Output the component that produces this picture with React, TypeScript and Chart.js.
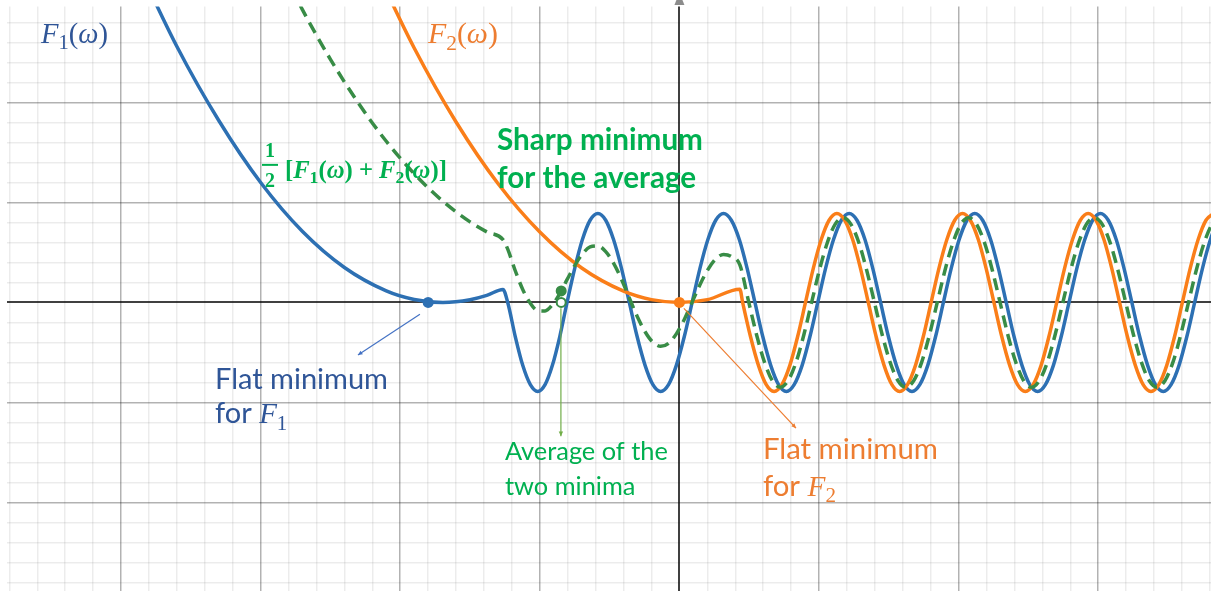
import React, { useEffect, useRef } from "react";
import { Chart, registerables } from "chart.js";

Chart.register(...registerables);

// ---- axis ranges (one major grid square = 1 unit, minor = 0.2) ----
const X_MIN = -4.817;
const X_MAX = 3.808;
const Y_MIN = -2.881;
const Y_MAX = 2.96;

// ---- F1(ω): blue ----
const f1X = [
  -3.9, -3.6, -3.3, -3.0, -2.7, -2.4, -2.1, -1.9, -1.694, -1.5, -1.38, -1.264,
  -1.23, -1.176, -1.1225, -1.068, -1.015, -0.9625, -0.91, -0.857, -0.805, -0.75, -0.695, -0.64,
  -0.584, -0.528, -0.472, -0.415, -0.359, -0.303, -0.246, -0.19, -0.134, -0.078, -0.022, 0.035, 0.091, 0.147, 0.204, 0.26,
  0.316, 0.372, 0.429, 0.485, 0.541, 0.597, 0.654, 0.71, 0.766, 0.822, 0.879, 0.935, 0.991, 1.047, 1.104, 1.16,
  1.216, 1.272, 1.329, 1.385, 1.441, 1.497, 1.554, 1.61, 1.666, 1.722, 1.779, 1.835, 1.891, 1.947, 2.004, 2.06,
  2.116, 2.172, 2.229, 2.285, 2.341, 2.397, 2.454, 2.51, 2.566, 2.622, 2.679, 2.735, 2.791, 2.847, 2.904, 2.96,
  3.016, 3.072, 3.129, 3.185, 3.241, 3.297, 3.354, 3.41, 3.466, 3.522, 3.579, 3.635, 3.691, 3.747, 3.804, 3.86,
  3.916,
];
const f1Y = [
  3.43, 2.56, 1.82, 1.2, 0.71, 0.35, 0.116, 0.03, 0, 0.027, 0.07, 0.13,
  0, -0.341, -0.629, -0.822, -0.89, -0.822, -0.629, -0.341, 0, 0.341, 0.629, 0.822,
  0.89, 0.822, 0.629, 0.341, 0, -0.341, -0.629, -0.822, -0.89, -0.822, -0.629, -0.341, 0, 0.341, 0.629, 0.822,
  0.89, 0.822, 0.629, 0.341, 0, -0.341, -0.629, -0.822, -0.89, -0.822, -0.629, -0.341, 0, 0.341, 0.629, 0.822,
  0.89, 0.822, 0.629, 0.341, 0, -0.341, -0.629, -0.822, -0.89, -0.822, -0.629, -0.341, 0, 0.341, 0.629, 0.822,
  0.89, 0.822, 0.629, 0.341, 0, -0.341, -0.629, -0.822, -0.89, -0.822, -0.629, -0.341, 0, 0.341, 0.629, 0.822,
  0.89, 0.822, 0.629, 0.341, 0, -0.341, -0.629, -0.822, -0.89, -0.822, -0.629, -0.341, 0, 0.341, 0.629, 0.822,
  0.89,
];

// ---- F2(ω): orange ----
const f2X = [
  -2.2, -1.9, -1.6, -1.3, -1.0, -0.7, -0.4, -0.2, 0, 0.2, 0.433,
  0.453, 0.509, 0.566, 0.622, 0.678, 0.734, 0.791, 0.847, 0.903, 0.959, 1.016, 1.072,
  1.128, 1.184, 1.241, 1.297, 1.353, 1.409, 1.466, 1.522, 1.578, 1.634, 1.691, 1.747, 1.803, 1.859, 1.916, 1.972,
  2.028, 2.084, 2.141, 2.197, 2.253, 2.309, 2.366, 2.422, 2.478, 2.534, 2.591, 2.647, 2.703, 2.759, 2.816, 2.872,
  2.928, 2.984, 3.041, 3.097, 3.153, 3.209, 3.266, 3.322, 3.378, 3.434, 3.491, 3.547, 3.603, 3.659, 3.716, 3.772,
  3.828,
];
const f2Y = [
  3.41, 2.545, 1.805, 1.19, 0.705, 0.345, 0.113, 0.028, 0, 0.028, 0.132,
  0, -0.341, -0.629, -0.822, -0.89, -0.822, -0.629, -0.341, 0, 0.341, 0.629, 0.822,
  0.89, 0.822, 0.629, 0.341, 0, -0.341, -0.629, -0.822, -0.89, -0.822, -0.629, -0.341, 0, 0.341, 0.629, 0.822,
  0.89, 0.822, 0.629, 0.341, 0, -0.341, -0.629, -0.822, -0.89, -0.822, -0.629, -0.341, 0, 0.341, 0.629, 0.822,
  0.89, 0.822, 0.629, 0.341, 0, -0.341, -0.629, -0.822, -0.89, -0.822, -0.629, -0.341, 0, 0.341, 0.629, 0.822,
  0.89,
];

// ---- ½[F1(ω)+F2(ω)]: green dashed ----
const avgX = [
  -2.9, -2.7, -2.5, -2.3, -2.1, -1.9, -1.7, -1.5, -1.38, -1.264,
  -1.23, -1.176, -1.1225, -1.068, -1.015, -0.9625, -0.91, -0.857, -0.805, -0.75, -0.695, -0.64,
  -0.584, -0.528, -0.472, -0.415, -0.359, -0.303, -0.246, -0.19, -0.134, -0.078, -0.022, 0.035, 0.091, 0.147, 0.204, 0.26,
  0.316, 0.372, 0.433,
  0.497, 0.553, 0.61, 0.666, 0.722, 0.778, 0.835, 0.891, 0.947, 1.003, 1.06, 1.116,
  1.172, 1.228, 1.285, 1.341, 1.397, 1.453, 1.51, 1.566, 1.622, 1.678, 1.735, 1.791, 1.847, 1.903, 1.96, 2.016,
  2.072, 2.128, 2.185, 2.241, 2.297, 2.353, 2.41, 2.466, 2.522, 2.578, 2.635, 2.691, 2.747, 2.803, 2.86, 2.916,
  2.972, 3.028, 3.085, 3.141, 3.197, 3.253, 3.31, 3.366, 3.422, 3.478, 3.535, 3.591, 3.647, 3.703, 3.76, 3.816,
  3.872,
];
const avgY = [
  3.477, 2.926, 2.432, 1.994, 1.612, 1.288, 1.019, 0.806, 0.706, 0.628,
  0.533, 0.317, 0.13, -0.009, -0.082, -0.085, -0.023, 0.088, 0.228, 0.369, 0.485, 0.555,
  0.565, 0.509, 0.393, 0.231, 0.045, -0.138, -0.293, -0.398, -0.439, -0.409, -0.314, -0.17, 0.003, 0.178, 0.329, 0.435,
  0.48, 0.46, 0.375,
  0, -0.325, -0.6, -0.783, -0.848, -0.783, -0.6, -0.325, 0, 0.325, 0.6, 0.783,
  0.848, 0.783, 0.6, 0.325, 0, -0.325, -0.6, -0.783, -0.848, -0.783, -0.6, -0.325, 0, 0.325, 0.6, 0.783,
  0.848, 0.783, 0.6, 0.325, 0, -0.325, -0.6, -0.783, -0.848, -0.783, -0.6, -0.325, 0, 0.325, 0.6, 0.783,
  0.848, 0.783, 0.6, 0.325, 0, -0.325, -0.6, -0.783, -0.848, -0.783, -0.6, -0.325, 0, 0.325, 0.6, 0.783,
  0.848,
];

// ---- marked points ----
const f1MinPoint = [-1.8, 0];
const f2MinPoint = [0, 0];
const avgCurvePoint = [-0.847, 0.115];
const midMinPoint = [-0.847, 0];

// ---- annotation pointer lines [x1, y1, x2, y2] ----
const pointerF1 = [-1.859, -0.119, -2.303, -0.525];
const pointerAvg = [-0.849, -0.059, -0.849, -1.337];
const pointerF2 = [0.032, -0.059, 0.835, -1.257];

const C = {
  f1: "#2d70b3",
  f2: "#fa7e19",
  avg: "#388c46",
  textBlue: "#2F5597",
  textOrange: "#ED7D31",
  textGreen: "#00B050",
  ptrBlue: "#4472C4",
  ptrGreen: "#70AD47",
  ptrOrange: "#ED7D31",
};

const zip = (xs: number[], ys: number[]) => xs.map((x, i) => ({ x, y: ys[i] }));

type Seg = { t: string; serif?: boolean; it?: boolean; b?: boolean; sub?: boolean };
const SANS = "Lato, 'Open Sans', sans-serif";
const SERIF = "'Liberation Serif', 'DejaVu Serif', serif";

function segFont(s: Seg, size: number) {
  const sz = s.sub ? size * 0.72 : size;
  return `${s.it ? "italic " : ""}${s.b ? "bold " : ""}${sz.toFixed(2)}px ${s.serif ? SERIF : SANS}`;
}
function segsWidth(ctx: CanvasRenderingContext2D, segs: Seg[], size: number) {
  let w = 0;
  for (const s of segs) {
    ctx.font = segFont(s, size);
    w += ctx.measureText(s.t).width;
  }
  return w;
}
function drawSegs(ctx: CanvasRenderingContext2D, segs: Seg[], x: number, y: number, size: number, color: string) {
  ctx.fillStyle = color;
  let cx = x;
  for (const s of segs) {
    ctx.font = segFont(s, size);
    ctx.fillText(s.t, cx, y + (s.sub ? size * 0.22 : 0));
    cx += ctx.measureText(s.t).width;
  }
}
function fitSize(ctx: CanvasRenderingContext2D, segs: Seg[], target: number) {
  return (100 * target) / segsWidth(ctx, segs, 100);
}

const mathF = (n: string, bold = false): Seg[] => [
  { t: "F", serif: true, it: true, b: bold },
  { t: n, serif: true, sub: true, b: bold },
  { t: "(", serif: true, b: bold },
  { t: "ω", serif: true, it: true, b: bold },
  { t: ")", serif: true, b: bold },
];

type Block = { lines: Seg[][]; x: number; ys: number[]; width: number; color: string };
const textBlocks: Block[] = [
  { lines: [mathF("1")], x: -4.573, ys: [2.594], width: 67, color: C.textBlue },
  { lines: [mathF("2")], x: -1.802, ys: [2.594], width: 70, color: C.textOrange },
  {
    lines: [[{ t: "[", serif: true, b: true }, ...mathF("1", true), { t: " + ", serif: true, b: true }, ...mathF("2", true), { t: "]", serif: true, b: true }]],
    x: -2.826, ys: [1.248], width: 162, color: C.textGreen,
  },
  {
    lines: [[{ t: "Sharp minimum", b: true }], [{ t: "for the average", b: true }]],
    x: -1.307, ys: [1.525, 1.149], width: 206, color: C.textGreen,
  },
  {
    lines: [[{ t: "Flat minimum" }], [{ t: "for " }, { t: "F", serif: true, it: true }, { t: "1", serif: true, sub: true }]],
    x: -3.327, ys: [-0.861, -1.208], width: 173, color: C.textBlue,
  },
  {
    lines: [[{ t: "Average of the" }], [{ t: "two minima" }]],
    x: -1.25, ys: [-1.574, -1.921], width: 163, color: C.textGreen,
  },
  {
    lines: [[{ t: "Flat minimum" }], [{ t: "for " }, { t: "F", serif: true, it: true }, { t: "2", serif: true, sub: true }]],
    x: 0.598, ys: [-1.564, -1.931], width: 175, color: C.textOrange,
  },
];

const pointers: [number[], string][] = [
  [pointerF1, C.ptrBlue],
  [pointerAvg, C.ptrGreen],
  [pointerF2, C.ptrOrange],
];

const annotationPlugin = {
  id: "annotations",
  afterDatasetsDraw(chart: any) {
    const { ctx } = chart;
    const xs = chart.scales.x;
    const ys = chart.scales.y;
    const px = (v: number) => xs.getPixelForValue(v);
    const py = (v: number) => ys.getPixelForValue(v);
    ctx.save();

    // pointer lines with small arrow heads
    for (const [p, color] of pointers) {
      const x1 = px(p[0]), y1 = py(p[1]), x2 = px(p[2]), y2 = py(p[3]);
      ctx.strokeStyle = color;
      ctx.fillStyle = color;
      ctx.lineWidth = 1.2;
      ctx.beginPath();
      ctx.moveTo(x1, y1);
      ctx.lineTo(x2, y2);
      ctx.stroke();
      const a = Math.atan2(y2 - y1, x2 - x1);
      const L = 5;
      ctx.beginPath();
      ctx.moveTo(x2, y2);
      ctx.lineTo(x2 - L * Math.cos(a - 0.45), y2 - L * Math.sin(a - 0.45));
      ctx.lineTo(x2 - L * Math.cos(a + 0.45), y2 - L * Math.sin(a + 0.45));
      ctx.closePath();
      ctx.fill();
    }

    // text blocks
    ctx.textBaseline = "alphabetic";
    ctx.textAlign = "left";
    for (const b of textBlocks) {
      const size = fitSize(ctx, b.lines[0], b.width);
      b.lines.forEach((line, i) => drawSegs(ctx, line, px(b.x), py(b.ys[i]), size, b.color));
    }

    // fraction ½
    const fx = px(-2.933);
    ctx.fillStyle = C.textGreen;
    ctx.font = `bold 20px ${SERIF}`;
    ctx.textAlign = "center";
    ctx.fillText("1", fx, py(1.455));
    ctx.fillText("2", fx, py(1.158));
    ctx.fillRect(fx - 8, py(1.376) - 1, 16, 2);

    // small arrow cap on top of the vertical axis
    const ax = px(0);
    ctx.fillStyle = "rgba(0,0,0,0.45)";
    ctx.beginPath();
    ctx.moveTo(ax - 5, 5);
    ctx.lineTo(ax + 5, 5);
    ctx.lineTo(ax + 3, 0);
    ctx.lineTo(ax - 3, 0);
    ctx.closePath();
    ctx.fill();
    ctx.restore();
  },
};

const gridStyle = (v: number): [string, number] => {
  const i = Math.round(v * 5);
  if (i === 0) return ["rgba(0,0,0,0.75)", 2];
  if (i % 5 === 0) return ["rgba(0,0,0,0.3)", 1.5];
  return ["rgba(0,0,0,0.075)", 1.5];
};

const makeTicks = (min: number, max: number) => {
  const t: { value: number }[] = [];
  for (let i = Math.ceil(min * 5); i <= Math.floor(max * 5); i++) t.push({ value: i / 5 });
  return t;
};

const axisOpts = (min: number, max: number) => ({
  type: "linear" as const,
  min,
  max,
  afterBuildTicks: (axis: any) => {
    axis.ticks = makeTicks(min, max);
  },
  ticks: { display: false },
  grid: {
    drawTicks: false,
    color: (c: any) => gridStyle(c.tick ? c.tick.value : 0.1)[0],
    lineWidth: (c: any) => gridStyle(c.tick ? c.tick.value : 0.1)[1],
  },
  border: { display: false },
});

export default function App() {
  const ref = useRef<HTMLCanvasElement | null>(null);

  useEffect(() => {
    if (!ref.current) return;
    const curve = (data: any[], color: string, order: number, dash: number[] = []) => ({
      data,
      showLine: true,
      borderColor: color,
      backgroundColor: color,
      borderWidth: 3.5,
      borderDash: dash,
      borderJoinStyle: "round" as const,
      pointRadius: 0,
      cubicInterpolationMode: "monotone" as const,
      fill: false,
      order,
    });
    const dot = (p: number[], fillC: string, borderC: string, bw: number, r: number) => ({
      data: [{ x: p[0], y: p[1] }],
      showLine: false,
      pointRadius: r,
      pointBackgroundColor: fillC,
      pointBorderColor: borderC,
      pointBorderWidth: bw,
      order: -1,
    });
    const chart = new Chart(ref.current, {
      type: "scatter",
      data: {
        datasets: [
          curve(zip(f1X, f1Y), C.f1, 3),
          curve(zip(f2X, f2Y), C.f2, 2),
          curve(zip(avgX, avgY), C.avg, 1, [12, 7]),
          dot(f1MinPoint, C.f1, C.f1, 0, 5.5),
          dot(f2MinPoint, C.f2, C.f2, 0, 5.5),
          dot(avgCurvePoint, C.avg, C.avg, 0, 5.5),
          dot(midMinPoint, "#ffffff", C.avg, 2, 4.5),
        ] as any,
      },
      options: {
        responsive: false,
        maintainAspectRatio: false,
        animation: false,
        events: [],
        layout: { padding: { left: 7, right: 10, top: 3, bottom: 4 } },
        plugins: { legend: { display: false }, tooltip: { enabled: false } },
        scales: {
          x: axisOpts(X_MIN, X_MAX),
          y: axisOpts(Y_MIN, Y_MAX),
        } as any,
      },
      plugins: [annotationPlugin],
    });
    return () => chart.destroy();
  }, []);

  return (
    <div style={{ position: "fixed", left: 0, top: 0, width: 1221, height: 597, background: "#ffffff" }}>
      <canvas ref={ref} width={1221} height={597} style={{ display: "block" }} />
    </div>
  );
}
